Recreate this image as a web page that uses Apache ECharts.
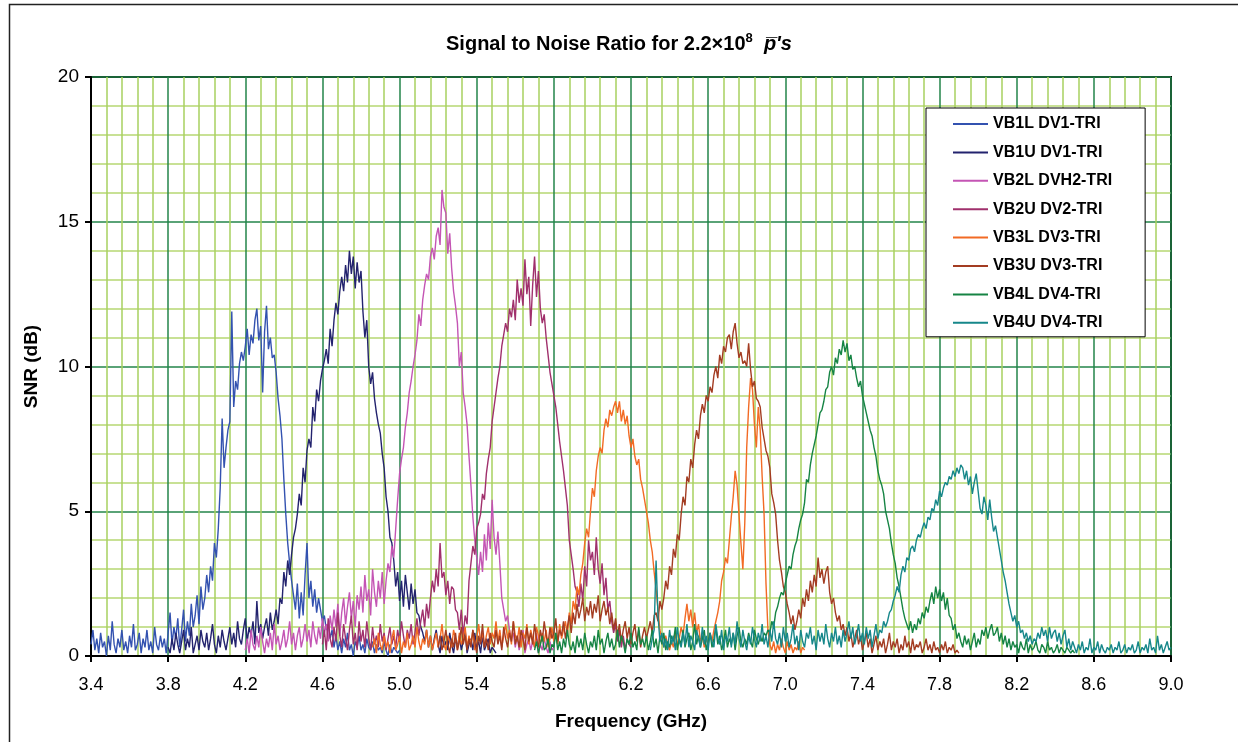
<!DOCTYPE html>
<html>
<head>
<meta charset="utf-8">
<script src="https://cdn.jsdelivr.net/npm/echarts@6/dist/echarts.min.js"></script>
<style>
  html, body { margin: 0; padding: 0; background: #fff; }
  #chart { width: 1238px; height: 742px; }
</style>
</head>
<body>
<div id="chart"></div>
<script>
// Frequency step of the sweep (GHz); every trace is sampled on that grid
const STEP = 0.01;

const seriesNames = [
  "VB1L DV1-TRI", "VB1U DV1-TRI", "VB2L DVH2-TRI", "VB2U DV2-TRI",
  "VB3L DV3-TRI", "VB3U DV3-TRI", "VB4L DV4-TRI", "VB4U DV4-TRI",
];
const seriesColors = [
  "#3352b0", "#23236e", "#c455b4", "#a0306c",
  "#f26a24", "#a33c22", "#168444", "#16878a",
];
// first frequency of each trace (GHz)
const seriesStart = [3.40, 3.80, 4.20, 4.60, 4.86, 5.20, 5.70, 6.30];

// SNR (dB), one value per STEP
const vb1l = [
  0.4,0.9,0.2,0.6,0.1,0.8,0.3,0.5,0.0,0.7,
  0.2,1.2,0.4,0.1,0.6,0.3,0.9,0.2,0.5,0.1,
  0.7,0.3,1.1,0.2,0.4,0.8,0.1,0.6,0.3,0.9,
  0.2,0.5,0.1,1.0,0.4,0.2,0.7,0.3,0.6,0.1,
  0.8,1.5,0.4,1.0,0.6,1.3,0.3,0.9,1.6,0.5,
  1.2,0.7,1.8,1.0,1.4,2.1,1.1,2.4,1.6,2.0,
  2.8,2.2,3.1,2.6,3.9,3.4,4.4,5.8,8.2,6.5,
  7.2,7.8,8.1,11.9,8.6,9.5,9.2,10.1,10.5,10.2,
  10.7,11.3,10.4,11.1,10.8,11.6,12.0,10.9,11.4,9.1,
  11.2,12.1,10.6,11.0,10.3,10.4,9.8,8.9,8.3,7.5,
  6.1,4.9,3.9,3.2,2.6,2.1,1.6,2.5,1.3,2.2,
  1.4,2.8,3.9,2.0,2.6,1.7,2.3,1.5,2.0,1.6,
  1.2,1.4,0.9,1.1,0.6,0.9,0.3,0.7,0.2,0.5,
  0.1,0.6,0.3,0.8,0.2,0.4,0.0,0.5,0.3,0.7,
  0.2,0.4,0.1,0.6,0.3,0.2,0.5,0.1,0.4,0.2,
  0.3,0.1,0.5,0.2,0.0,0.4,0.1,0.3,0.2,0.1,
  0.2,
];
const vb1u = [
  0.3,0.1,0.6,0.2,0.8,0.4,0.1,0.5,0.9,0.2,
  0.6,0.3,1.0,0.1,0.4,0.7,0.2,0.9,0.5,0.3,
  0.8,0.2,0.6,1.1,0.4,0.1,0.7,0.3,0.9,0.5,
  0.2,0.6,1.0,0.4,0.8,0.3,1.2,0.6,0.4,0.9,
  1.3,0.5,1.0,0.7,1.2,0.4,1.9,0.8,1.1,0.6,
  1.0,1.3,0.7,1.5,0.9,1.2,1.6,1.1,2.0,1.8,
  2.9,2.4,3.3,2.8,3.5,4.1,4.4,4.9,5.6,5.2,
  6.5,6.0,7.1,7.5,7.2,8.6,8.1,9.2,8.8,9.5,
  9.9,10.2,10.6,10.1,11.3,10.7,11.6,12.2,11.8,12.6,
  13.1,12.6,13.5,12.9,14.0,13.2,13.8,12.7,13.6,12.9,
  13.3,11.9,11.0,11.6,10.0,9.4,9.8,8.9,8.4,8.0,
  7.7,7.0,6.5,5.5,5.0,4.1,3.9,3.3,2.4,2.9,
  1.9,2.6,1.7,2.8,2.2,1.6,2.5,1.8,2.3,1.5,
  1.4,1.0,0.8,0.5,0.9,0.3,0.7,0.2,0.6,0.9,
  0.4,0.1,0.7,0.3,0.5,0.2,0.8,0.4,0.1,0.6,
  0.3,0.7,0.2,0.5,0.9,0.1,0.4,0.6,0.2,0.8,
  0.3,0.5,0.1,0.7,0.2,0.4,0.6,0.1,0.3,0.2,
  0.1,
];
const vb2l = [
  0.2,0.6,0.1,0.9,0.4,0.2,0.7,0.3,1.0,0.5,
  0.1,0.6,0.3,0.8,0.2,1.1,0.4,0.7,0.2,0.5,
  0.9,0.3,0.6,1.2,0.4,0.8,0.2,0.7,1.0,0.3,
  0.6,1.1,0.5,0.9,0.3,1.2,0.7,0.4,1.0,0.6,
  1.3,0.8,1.1,0.5,1.4,0.9,1.6,1.0,1.8,0.7,
  1.5,2.0,1.1,1.7,2.2,1.3,1.9,1.0,2.1,1.6,
  2.4,1.5,2.8,1.9,2.3,1.4,3.0,2.2,1.7,2.6,
  2.0,2.9,1.8,2.6,3.2,2.9,3.8,3.4,4.4,5.4,
  6.3,6.8,7.2,7.9,8.4,9.1,9.5,10.0,10.4,10.9,
  11.8,11.4,12.3,12.8,13.2,13.0,13.8,14.1,13.7,14.5,
  14.8,14.2,16.1,15.5,15.3,13.9,14.6,13.4,12.6,12.1,
  11.5,10.0,10.5,9.1,8.6,8.0,6.9,5.9,4.8,4.0,
  3.4,2.8,3.6,2.9,4.2,3.3,4.6,3.7,5.4,4.1,
  3.5,4.3,3.2,2.0,1.6,1.2,1.4,0.9,0.6,0.8,
  0.3,0.7,0.2,0.5,0.9,0.1,0.4,0.6,0.2,0.5,
  0.3,0.8,0.1,0.4,0.2,0.6,0.3,0.1,0.5,0.2,
  0.3,
];
const vb2u = [
  0.4,0.9,0.2,1.3,0.6,0.3,1.0,0.5,1.5,0.7,
  0.3,1.1,0.6,0.2,0.9,1.4,0.4,0.8,0.2,1.2,
  0.5,0.9,0.3,1.2,0.6,0.2,1.0,0.4,0.7,0.3,
  1.1,0.5,0.8,0.2,0.6,1.0,0.4,0.7,0.3,0.9,
  0.5,1.2,0.7,0.3,0.9,0.6,1.1,0.4,0.8,1.3,
  0.7,1.2,1.6,1.0,1.8,1.3,2.0,2.6,2.2,3.0,
  2.4,3.9,2.7,2.9,2.1,2.6,1.8,2.4,2.3,1.6,
  1.5,0.9,1.6,0.7,1.4,1.1,2.6,3.2,3.8,3.5,
  4.4,4.6,4.9,5.6,5.4,6.3,6.8,7.2,8.1,8.6,
  9.1,9.6,10.0,10.7,11.1,11.5,11.2,12.0,11.7,12.3,
  11.6,13.0,12.2,12.7,12.1,13.7,12.5,13.1,11.4,12.8,
  13.8,12.4,13.3,12.0,11.5,11.8,11.0,10.4,9.8,9.4,
  9.0,8.6,8.0,7.4,6.9,6.4,5.8,5.2,4.0,3.5,
  3.0,2.4,2.2,1.7,2.5,1.9,3.1,2.4,4.0,3.3,
  3.6,2.8,4.1,3.0,2.5,3.2,2.1,2.7,1.6,1.9,
  1.2,0.8,1.1,0.5,0.9,0.3,0.7,0.2,0.6,0.4,
  0.3,
];
const vb3l = [
  0.3,0.6,0.1,0.8,0.4,0.2,0.7,0.3,0.5,0.1,
  0.6,0.9,0.2,0.4,0.7,0.1,0.5,0.3,0.8,0.2,
  0.4,0.7,0.3,1.0,0.5,0.2,0.6,0.4,0.9,0.3,
  0.7,0.2,0.5,0.8,0.3,0.6,1.1,0.4,0.2,0.7,
  0.5,0.3,0.9,0.6,0.2,0.8,0.4,0.6,1.0,0.3,
  0.7,0.4,0.9,0.2,0.6,1.1,0.5,0.8,0.3,0.7,
  1.0,0.4,0.8,0.6,1.2,0.5,0.9,0.3,0.7,1.1,
  0.6,0.9,0.4,1.2,0.7,0.5,1.0,0.3,0.8,0.6,
  1.1,0.4,0.9,0.6,0.3,1.0,0.7,0.4,0.8,0.5,
  0.9,0.3,0.6,1.0,0.5,0.8,0.4,1.1,0.6,0.9,
  1.2,0.7,1.5,1.1,1.9,1.6,2.4,2.1,2.8,3.2,
  3.9,4.4,4.1,5.0,5.8,5.5,6.4,6.9,7.2,7.0,
  7.8,8.2,7.9,8.5,8.3,8.6,8.8,8.4,8.8,8.1,
  8.5,8.0,8.3,7.6,7.2,7.5,6.9,6.6,6.8,6.1,
  5.8,5.4,5.0,4.6,4.0,3.6,2.9,2.3,1.6,0.9,
  0.6,0.3,0.7,0.4,0.2,0.5,0.3,0.8,0.4,0.6,
  1.0,0.7,1.3,1.8,1.2,1.6,1.0,1.5,0.8,1.1,
  0.5,0.7,0.3,0.6,0.4,0.8,0.5,0.9,1.2,1.5,
  1.9,2.6,2.9,3.4,3.2,4.0,4.8,5.5,6.4,5.9,
  4.9,3.9,3.0,4.6,7.2,8.6,9.6,9.2,8.0,7.2,
  8.6,7.8,6.2,4.9,2.5,0.9,0.4,0.2,0.5,0.1,
  0.4,0.2,0.6,0.3,0.1,0.5,0.2,0.4,0.1,0.3,
  0.2,0.5,0.1,0.3,0.2,
];
const vb3u = [
  0.3,0.7,0.2,0.5,0.9,0.4,0.1,0.6,0.3,0.8,
  0.2,0.5,1.0,0.4,0.7,0.2,0.6,0.3,0.9,0.5,
  0.1,0.7,0.4,1.1,0.3,0.6,0.2,0.8,0.5,0.3,
  0.9,0.4,0.7,0.2,1.0,0.6,0.3,0.8,0.5,1.2,
  0.4,0.7,0.3,0.9,0.6,0.2,1.0,0.5,0.8,0.4,
  1.1,0.6,0.3,0.9,0.5,1.2,0.7,0.4,1.0,0.6,
  0.8,1.3,0.5,0.9,0.7,1.2,0.6,1.0,1.4,0.8,
  1.5,1.1,1.8,1.3,1.6,2.0,1.2,1.7,1.4,1.9,
  1.3,1.8,1.5,2.1,1.2,1.6,1.9,1.4,1.7,1.1,
  1.5,0.9,1.3,0.7,1.1,0.5,0.9,1.2,0.6,1.0,
  0.4,0.8,1.1,0.5,0.9,0.3,0.7,1.0,0.6,0.9,
  1.2,0.8,1.4,1.5,1.2,1.9,1.6,2.0,2.6,2.3,
  3.1,2.8,3.7,3.4,4.2,4.0,4.9,5.5,5.2,6.2,
  6.0,6.8,6.5,7.3,7.8,7.5,8.3,8.7,8.4,9.0,
  8.8,9.3,9.1,9.7,10.0,9.6,10.4,10.1,10.7,10.5,
  11.0,11.1,10.6,11.2,11.5,10.8,10.3,10.5,10.1,10.2,
  10.0,10.8,9.9,9.3,9.5,8.9,8.8,8.6,7.9,7.5,
  7.1,6.9,6.5,5.6,5.3,4.9,4.0,3.3,2.9,2.4,
  2.2,1.8,1.5,1.1,1.4,0.9,1.2,1.6,1.3,2.0,
  1.7,2.3,1.9,2.6,2.2,2.8,2.4,3.4,2.7,3.0,
  2.5,2.9,3.1,2.2,1.8,2.0,1.5,1.2,1.4,0.9,
  1.1,0.7,1.0,0.5,0.8,0.3,0.6,0.9,0.4,0.7,
  0.2,0.5,0.8,0.3,0.6,0.1,0.4,0.7,0.2,0.5,
  0.3,0.6,0.1,0.4,0.8,0.2,0.5,0.3,0.6,0.1,
  0.4,0.2,0.7,0.3,0.5,0.1,0.6,0.2,0.4,0.3,
  0.5,0.1,0.3,0.6,0.2,0.4,0.1,0.5,0.2,0.3,
  0.1,0.4,0.2,0.5,0.1,0.3,0.2,0.4,0.1,0.2,
  0.1,
];
const vb4l = [
  0.2,0.5,0.1,0.4,0.7,0.2,0.3,0.6,0.1,0.4,
  0.3,0.8,0.2,0.5,0.1,0.6,0.3,0.9,0.4,0.2,
  0.5,0.1,0.7,0.3,0.6,0.2,0.8,0.4,0.1,0.5,
  0.3,0.7,0.2,0.9,0.4,0.6,0.1,0.5,0.8,0.3,
  0.6,0.2,0.4,0.9,0.3,0.7,0.5,0.1,0.6,0.4,
  0.8,0.3,0.5,0.2,1.0,0.4,0.6,0.3,0.7,0.2,
  0.5,0.9,0.3,0.6,0.1,0.7,0.4,0.8,0.2,0.5,
  0.3,0.7,0.5,1.0,0.2,0.6,0.4,0.9,0.3,0.6,
  0.8,0.2,0.5,1.1,0.4,0.7,0.3,0.6,0.9,0.2,
  0.5,0.8,0.3,0.6,1.0,0.4,0.7,0.2,0.5,0.9,
  0.3,0.6,0.4,0.8,0.2,0.7,1.0,0.5,0.3,0.6,
  0.4,0.8,0.5,0.3,0.9,0.6,0.4,0.7,0.5,0.8,
  0.7,0.9,0.8,1.2,1.0,1.5,1.7,2.0,2.2,2.1,
  2.5,2.8,3.1,3.0,3.5,3.8,4.0,4.4,4.7,4.9,
  5.3,6.1,6.0,6.6,7.0,7.3,7.6,8.0,8.4,8.5,
  8.8,9.2,9.3,9.8,10.0,9.7,10.3,10.1,10.6,10.4,
  10.9,10.5,10.8,10.2,10.4,9.9,10.0,9.6,9.3,9.5,
  9.0,8.7,8.4,8.1,7.8,7.6,7.2,6.9,6.4,6.1,
  5.9,5.6,5.0,4.7,4.4,3.9,3.5,3.2,2.7,2.4,
  2.0,1.6,1.3,1.1,0.9,1.2,0.8,1.1,0.9,1.3,
  1.1,1.5,1.3,1.7,1.5,1.9,2.2,1.8,2.4,2.0,
  2.3,1.9,2.2,1.6,2.0,1.4,1.3,0.9,1.1,0.6,
  0.8,0.5,0.3,0.7,0.4,0.6,0.2,0.5,0.8,0.3,
  0.6,0.4,0.9,0.7,1.0,0.6,0.9,1.1,0.7,0.8,
  1.0,0.5,0.8,0.4,0.7,0.3,0.6,0.2,0.5,0.3,
  0.4,0.1,0.5,0.3,0.2,0.6,0.1,0.4,0.2,0.3,
  0.5,0.2,0.1,0.4,0.3,0.1,0.5,0.2,0.3,0.1,
  0.2,0.4,0.1,0.3,0.2,0.1,0.3,0.2,0.1,0.2,
  0.1,
];
const vb4u = [
  0.2,0.6,0.9,3.3,1.4,0.5,0.8,0.3,0.6,0.2,
  0.9,0.4,0.7,0.2,1.0,0.5,0.3,0.8,0.4,1.1,
  0.3,0.7,0.5,0.2,0.9,0.6,0.3,1.0,0.4,0.7,
  0.2,0.8,0.5,0.3,1.1,0.6,0.4,0.9,0.2,0.7,
  0.5,1.0,0.3,0.8,0.4,1.2,0.6,0.3,0.9,0.5,
  0.2,0.7,0.4,1.0,0.6,0.3,0.8,0.5,1.1,0.4,
  0.7,0.3,0.9,0.5,1.2,0.6,0.4,0.8,0.3,1.0,
  0.5,0.8,0.3,0.6,1.1,0.4,0.7,0.2,0.9,0.5,
  0.3,0.8,0.6,1.0,0.4,0.7,0.2,0.9,0.5,0.8,
  0.4,1.1,0.6,0.3,0.8,0.5,1.0,0.4,0.7,0.3,
  0.9,0.5,0.8,1.2,0.6,1.0,0.4,0.7,1.1,0.5,
  0.8,0.4,1.0,0.6,0.9,0.3,0.7,1.1,0.6,0.9,
  0.8,1.2,1.0,1.2,1.5,1.6,1.9,2.1,2.4,2.2,
  2.8,3.1,2.9,3.4,3.3,3.7,3.8,3.6,4.0,4.2,
  4.1,4.4,4.6,4.4,4.8,4.7,5.1,5.0,5.4,5.2,
  5.7,5.5,5.8,6.0,5.9,6.2,6.1,6.4,6.2,6.5,
  6.3,6.6,6.5,6.1,6.4,5.9,6.2,5.6,6.0,6.3,
  5.7,5.1,4.9,5.5,5.2,4.7,5.4,4.8,4.3,4.5,
  4.1,3.7,3.3,2.9,2.6,2.2,1.8,1.5,1.2,1.4,
  1.0,1.2,0.8,0.9,0.6,0.8,0.5,0.7,0.4,0.6,
  0.5,0.8,0.6,1.0,0.7,0.9,0.5,1.0,0.6,0.8,
  0.9,0.5,0.8,0.4,0.7,0.9,0.3,0.6,0.2,0.5,
  0.3,0.1,0.4,0.2,0.5,0.1,0.3,0.2,0.6,0.1,
  0.3,0.2,0.5,0.1,0.4,0.2,0.1,0.3,0.2,0.4,
  0.1,0.3,0.2,0.5,0.1,0.2,0.4,0.1,0.3,0.2,
  0.4,0.1,0.2,0.5,0.1,0.3,0.2,0.4,0.1,0.6,
  0.2,0.3,0.1,0.7,0.2,0.4,0.1,0.3,0.5,0.2,
  0.3,
];
const seriesValues = [vb1l, vb1u, vb2l, vb2u, vb3l, vb3u, vb4l, vb4u];

const xTicks = { min: 3.4, max: 9.0, interval: 0.4 };
const yTicks = { min: 0, max: 20, interval: 5 };

const FONT = "'Liberation Sans', Arial, Helvetica, sans-serif";
const MAJOR_GRID = "#23854a";
const MINOR_GRID_X = "#a8d160";
const MINOR_GRID_Y = "#c8e195";

function toPoints(start, values) {
  return values.map((v, i) => [+(start + i * STEP).toFixed(2), v]);
}

function buildSeries() {
  return seriesNames.map((name, k) => ({
    name,
    type: "line",
    data: toPoints(seriesStart[k], seriesValues[k]),
    showSymbol: false,
    symbol: "none",
    lineStyle: { width: 1.4, color: seriesColors[k] },
    itemStyle: { color: seriesColors[k] },
    emphasis: { disabled: true },
    z: 3 + k,
  }));
}

const chart = echarts.init(document.getElementById("chart"), null, { renderer: "canvas" });

chart.setOption({
  animation: false,
  backgroundColor: "#fff",
  title: {
    left: "center",
    top: 27,
    text: "{a|Signal to Noise Ratio for 2.2×10}{s|8}{a|  }{p|p\u0305's}",
    textStyle: {
      rich: {
        a: { fontFamily: FONT, fontWeight: "bold", fontSize: 20, color: "#000" },
        s: { fontFamily: FONT, fontWeight: "bold", fontSize: 13, color: "#000", padding: [0, 0, 12, 0] },
        p: { fontFamily: FONT, fontWeight: "bold", fontStyle: "italic", fontSize: 20, color: "#000" },
      },
    },
  },
  legend: {
    orient: "vertical",
    left: 926,
    top: 108,
    padding: [8, 33, 6, 27],
    itemGap: 12.4,
    itemWidth: 35,
    itemHeight: 2,
    icon: "rect",
    backgroundColor: "#fff",
    borderColor: "#000",
    borderWidth: 1,
    textStyle: { fontFamily: FONT, fontWeight: "bold", fontSize: 16, color: "#000" },
    data: seriesNames,
  },
  grid: {
    left: 91, right: 67, top: 77, bottom: 86,
    show: true, borderColor: "#000", borderWidth: 2,
  },
  xAxis: {
    type: "value",
    min: xTicks.min,
    max: xTicks.max,
    interval: xTicks.interval,
    name: "Frequency (GHz)",
    nameLocation: "middle",
    nameGap: 56,
    nameTextStyle: { fontFamily: FONT, fontWeight: "bold", fontSize: 19, color: "#000" },
    axisLine: { lineStyle: { color: "#000", width: 2 } },
    axisTick: { length: 6, lineStyle: { color: "#000", width: 2 } },
    axisLabel: {
      margin: 20, fontFamily: FONT, fontSize: 18, color: "#000",
      formatter: (v) => v.toFixed(1),
    },
    splitLine: { lineStyle: { color: MAJOR_GRID, width: 1.5 } },
    minorTick: { show: false, splitNumber: 5 },
    minorSplitLine: { show: true, lineStyle: { color: MINOR_GRID_X, width: 1.5 } },
  },
  yAxis: {
    type: "value",
    min: yTicks.min,
    max: yTicks.max,
    interval: yTicks.interval,
    name: "SNR (dB)",
    nameLocation: "middle",
    nameGap: 50,
    nameTextStyle: { fontFamily: FONT, fontWeight: "bold", fontSize: 19, color: "#000" },
    axisLine: { show: true, lineStyle: { color: "#000", width: 2 } },
    axisTick: { show: true, length: 6, lineStyle: { color: "#000", width: 2 } },
    axisLabel: { margin: 12, fontFamily: FONT, fontSize: 19, color: "#000" },
    splitLine: { lineStyle: { color: MAJOR_GRID, width: 1.5 } },
    minorTick: { show: false, splitNumber: 5 },
    minorSplitLine: { show: true, lineStyle: { color: MINOR_GRID_Y, width: 2 } },
  },
  graphic: [
    {
      type: "rect",
      left: 7, top: 2,
      shape: { width: 1250, height: 760 },
      style: { fill: "none", stroke: "#222", lineWidth: 1.5 },
      silent: true,
    },
  ],
  series: buildSeries(),
});

window.addEventListener("resize", () => chart.resize());
</script>
</body>
</html>
